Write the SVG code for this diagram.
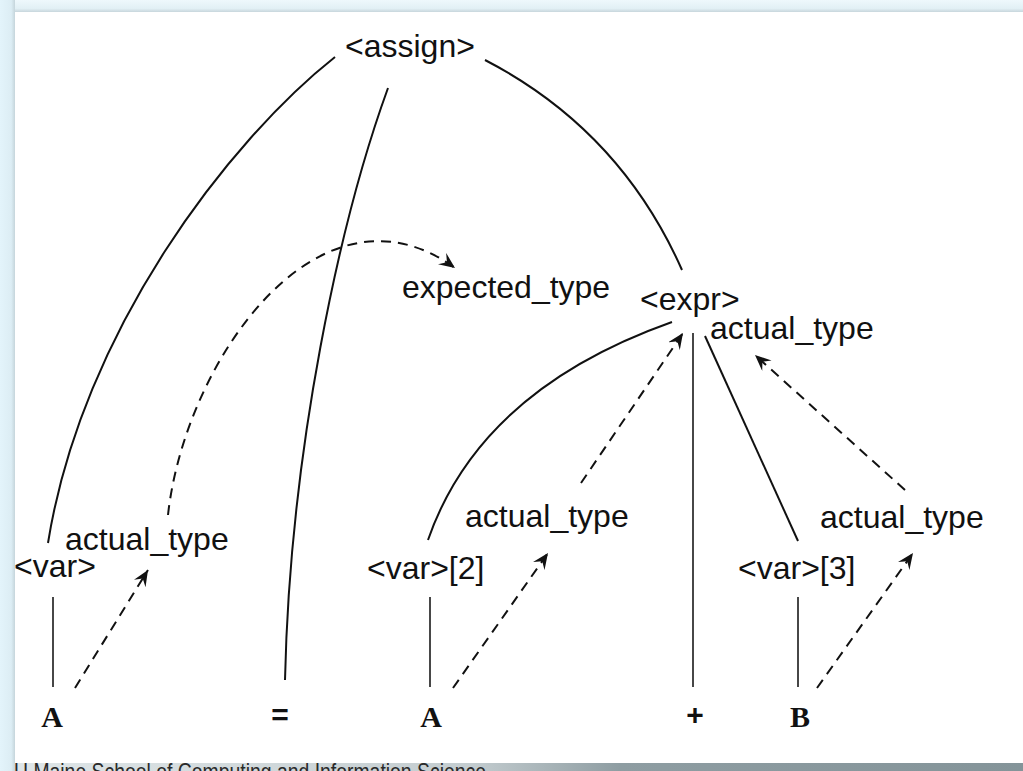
<svg xmlns="http://www.w3.org/2000/svg" width="1023" height="771" viewBox="0 0 1023 771">
<style>
.lbl{font-family:"Liberation Sans",Arial,sans-serif;font-size:32px;fill:#111}
.tok{font-family:"Liberation Serif","Times New Roman",serif;font-weight:bold;font-size:30px;fill:#111;text-anchor:middle}
.sym{font-family:"Liberation Mono","Courier New",monospace;font-weight:bold;font-size:30px;fill:#111;text-anchor:middle}
.edge{fill:none;stroke:#111;stroke-width:2}
.leaf{fill:none;stroke:#333;stroke-width:1.8}
.dep{fill:none;stroke:#111;stroke-width:2;stroke-dasharray:10 7}
.foot{font-family:"Liberation Sans",Arial,sans-serif;font-size:24px;fill:#2a2a2a}
</style>
<defs>
<marker id="ah" markerUnits="userSpaceOnUse" markerWidth="18" markerHeight="14" refX="16" refY="7" orient="auto">
<path d="M0,0 L16,7 L0,14 L6,7 Z" fill="#111"/>
</marker>
<linearGradient id="topg" x1="0" y1="0" x2="0" y2="1">
<stop offset="0" stop-color="#eef8fc"/><stop offset="0.7" stop-color="#e2f0f5"/><stop offset="1" stop-color="#c7d6dc"/>
</linearGradient>
<linearGradient id="leftg" x1="0" y1="0" x2="1" y2="0">
<stop offset="0" stop-color="#e3f4fb"/><stop offset="0.75" stop-color="#dcedf4"/><stop offset="1" stop-color="#c5d5db"/>
</linearGradient>
<linearGradient id="botg" x1="0" y1="0" x2="1" y2="0">
<stop offset="0" stop-color="#dfe6e8"/><stop offset="0.45" stop-color="#c4cdd0"/><stop offset="0.6" stop-color="#8e9da2"/><stop offset="1" stop-color="#849499"/>
</linearGradient>
</defs>
<rect x="0" y="0" width="1023" height="771" fill="#e3f4fb"/>
<rect x="0" y="0" width="1023" height="12" fill="url(#topg)"/>
<rect x="0" y="0" width="15" height="771" fill="url(#leftg)"/>
<rect x="15" y="763" width="1008" height="8" fill="url(#botg)"/>
<text class="foot" x="14" y="780" textLength="472" lengthAdjust="spacingAndGlyphs">U Maine School of Computing and Information Science</text>
<rect x="15" y="12" width="1008" height="751" fill="#ffffff"/>

<g id="connectors">
<path class="edge" d="M335,57 C230,140 82,330 48,543"/>
<path class="edge" d="M388,88 C340,220 290,450 285,680"/>
<path class="edge" d="M485,60 Q620,130 682,270"/>
<path class="edge" d="M672,322 Q480,390 428,540"/>
<line class="leaf" x1="693" y1="333" x2="693" y2="687"/>
<line class="edge" x1="705" y1="336" x2="798" y2="541"/>
<line class="leaf" x1="53" y1="597" x2="53" y2="687"/>
<line class="leaf" x1="430" y1="597" x2="430" y2="687"/>
<line class="leaf" x1="798" y1="597" x2="798" y2="687"/>
<path class="dep" d="M75,688 L148,570" marker-end="url(#ah)"/>
<path class="dep" d="M453,688 L548,553" marker-end="url(#ah)"/>
<path class="dep" d="M817,688 L913,553" marker-end="url(#ah)"/>
<path class="dep" d="M581,483 L683,333" marker-end="url(#ah)"/>
<path class="dep" d="M905,490 L755,355" marker-end="url(#ah)"/>
<path class="dep" d="M168,515 C185,360 320,170 455,268" marker-end="url(#ah)"/>
</g>

<g id="assign"><text class="lbl" x="345" y="57">&lt;assign&gt;</text></g>
<g id="expected_type"><text class="lbl" x="402" y="298">expected_type</text></g>
<g id="expr"><text class="lbl" x="640" y="310">&lt;expr&gt;</text>
<text class="lbl" x="710" y="339">actual_type</text></g>
<g id="var1"><text class="lbl" x="14" y="577">&lt;var&gt;</text>
<text class="lbl" x="65" y="550">actual_type</text></g>
<g id="var2"><text class="lbl" x="367" y="579">&lt;var&gt;[2]</text>
<text class="lbl" x="465" y="527">actual_type</text></g>
<g id="var3"><text class="lbl" x="738" y="579">&lt;var&gt;[3]</text>
<text class="lbl" x="820" y="528">actual_type</text></g>
<g id="tokA1"><text class="tok" x="52" y="727">A</text></g>
<g id="tokEq"><text class="sym" x="280" y="725">=</text></g>
<g id="tokA2"><text class="tok" x="431" y="727">A</text></g>
<g id="tokPlus"><text class="sym" x="695" y="725">+</text></g>
<g id="tokB"><text class="tok" x="800" y="727">B</text></g>
</svg>
